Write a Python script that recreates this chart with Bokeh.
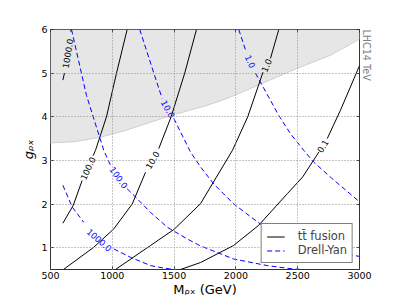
from bokeh.plotting import figure
from bokeh.models import (Range1d, FixedTicker, LinearAxis, Title, Legend,
                          LegendItem)
from bokeh.core.properties import value
from bokeh.embed import file_html
from bokeh.resources import INLINE

nan = float("nan")

# ---------------- data ----------------
x_ticks = [500, 1000, 1500, 2000, 2500, 3000]
y_ticks = [1, 2, 3, 4, 5, 6]
g_top = 6.0

# excluded region (lower boundary, shaded up to the top)
excl_M = [500, 700, 900, 1100, 1228, 1498, 1768, 1956, 2226, 2496, 2765, 3000]
excl_g = [3.40, 3.43, 3.53, 3.68, 3.80, 4.05, 4.26, 4.45, 4.78, 5.11, 5.41, 5.78]

# tt fusion contours (NaN = gap for the inline label)
tt_1000_M = [600, 613, nan, 662, 670]
tt_1000_g = [4.84, 5.00, nan, 5.95, 6.00]
tt_100_M = [600, 684, 756, nan, 845, 864, 953, 1034, 1120]
tt_100_g = [1.56, 1.97, 2.54, nan, 3.11, 3.23, 4.00, 5.00, 6.00]
tt_10_M = [605, 850, 1012, 1161, 1269, nan, 1376, 1476, 1586, 1681]
tt_10_g = [0.50, 1.01, 1.43, 2.00, 2.73, nan, 3.27, 4.00, 5.00, 6.00]
tt_1_M = [1026, 1309, 1500, 1714, 1972, 2096, 2219, nan, 2280, 2347]
tt_1_g = [0.50, 1.05, 1.42, 2.01, 3.23, 4.00, 5.02, nan, 5.34, 6.00]
tt_01_M = [1552, 1714, 1981, 2183, 2417, 2540, 2671, nan, 2739, 2846, 3000]
tt_01_g = [0.50, 0.66, 1.05, 1.51, 2.24, 2.62, 3.19, nan, 3.50, 4.15, 5.17]

# Drell-Yan contours
dy_1000_M = [600, 676, 769, nan, 1012, 1147, 1309, 1420, 1500]
dy_1000_g = [2.43, 1.93, 1.58, nan, 0.97, 0.78, 0.59, 0.53, 0.50]
dy_100_M = [670, 791, 931, 985, nan, 1120, 1188, 1309, 1444, 1606, 1714, 1983, 2253, 2468, 2550]
dy_100_g = [6.00, 4.49, 3.23, 2.89, nan, 2.35, 2.16, 1.81, 1.47, 1.20, 1.04, 0.74, 0.59, 0.51, 0.50]
dy_10_M = [1222, 1336, 1403, nan, 1498, 1633, 1714, 1821, 1983, 2213, 2500, 2750, 3000]
dy_10_g = [6.00, 5.00, 4.42, nan, 3.96, 3.19, 2.85, 2.46, 2.00, 1.51, 1.12, 0.93, 0.80]
dy_1_M = [2023, 2078, nan, 2158, 2347, 2442, 2549, 2630, 2772, 3000]
dy_1_g = [6.00, 5.53, nan, 5.00, 4.03, 3.61, 3.23, 2.96, 2.60, 2.05]

# inline contour labels
tt_lab_text = ["1000.0", "100.0", "10.0", "1.0", "0.1"]
tt_lab_M = [638, 801, 1323, 2246, 2702]
tt_lab_g = [5.45, 2.82, 3.01, 5.18, 3.33]
dy_lab_text = ["1000.0", "100.0", "10.0", "1.0"]
dy_lab_M = [896, 1054, 1452, 2118]
dy_lab_g = [1.18, 2.61, 4.18, 5.27]

tt_lab_angle = [1.40, 1.13, 1.04, 1.15, 1.02]
dy_lab_angle = [-0.72, -0.95, -1.08, -1.14]

series_label = ["t\u0074\u0304 fusion", "Drell-Yan"]
side_note = "LHC14 TeV"

# ---------------- figure ----------------
FONT = "DejaVu Sans"
p = figure(width=399, height=299, output_backend="svg", toolbar_location=None,
           x_range=Range1d(500, 3000), y_range=Range1d(0.5, 6),
           min_border_left=50, min_border_right=40, min_border_top=29,
           min_border_bottom=30)
p.outline_line_color = "#333333"
p.outline_line_width = 1

p.varea(x=excl_M, y1=excl_g, y2=[g_top] * len(excl_M),
        fill_color="#e6e6e6", fill_alpha=1.0)
p.line(excl_M, excl_g, line_color="#cfcfcf", line_width=1)

tt_sets = [(tt_1000_M, tt_1000_g), (tt_100_M, tt_100_g), (tt_10_M, tt_10_g),
           (tt_1_M, tt_1_g), (tt_01_M, tt_01_g)]
dy_sets = [(dy_1000_M, dy_1000_g), (dy_100_M, dy_100_g), (dy_10_M, dy_10_g),
           (dy_1_M, dy_1_g)]

tt_r = [p.line(m, g, line_color="black", line_width=1) for m, g in tt_sets]
dy_r = [p.line(m, g, line_color="#0000ff", line_width=1, line_dash="5 3")
        for m, g in dy_sets]

p.text(x=tt_lab_M, y=tt_lab_g, text=tt_lab_text, angle=tt_lab_angle,
       text_color="black", text_font=value(FONT), text_font_size="8.5px",
       text_align="center", text_baseline="middle")
p.text(x=dy_lab_M, y=dy_lab_g, text=dy_lab_text, angle=dy_lab_angle,
       text_color="#0000ff", text_font=value(FONT), text_font_size="8.5px",
       text_align="center", text_baseline="middle")

# axes
for ax in (p.xaxis[0], p.yaxis[0]):
    ax.major_tick_in = 3
    ax.major_tick_out = 0
    ax.minor_tick_in = 0
    ax.minor_tick_out = 0
    ax.axis_line_color = None
    ax.major_tick_line_color = "#333333"
    ax.major_label_text_font = FONT
    ax.major_label_text_font_size = "9.5px"
    ax.major_label_text_color = "black"
    ax.axis_label_text_font = FONT
    ax.axis_label_text_color = "black"
p.xaxis.ticker = FixedTicker(ticks=x_ticks)
p.yaxis.ticker = FixedTicker(ticks=y_ticks)
p.xaxis.major_label_standoff = 2
p.yaxis.major_label_standoff = 3
p.xaxis.axis_label = "M\u1d68\u2093 (GeV)"
p.xaxis.axis_label_text_font_size = "13px"
p.xaxis.axis_label_text_font_style = "normal"
p.xaxis.axis_label_standoff = 0
p.yaxis.axis_label = "g\u1d68\u2093"
p.yaxis.axis_label_text_font_size = "13px"
p.yaxis.axis_label_text_font_style = "italic"
p.yaxis.axis_label_standoff = 2

for side, tk in (("above", x_ticks), ("right", y_ticks)):
    a = LinearAxis(ticker=FixedTicker(ticks=tk), major_tick_in=3, major_tick_out=0,
                   minor_tick_in=0, minor_tick_out=0, axis_line_color=None,
                   major_tick_line_color="#333333",
                   major_label_text_font_size="0px", major_label_text_color=None,
                   major_label_standoff=0)
    p.add_layout(a, side)

for grid in (p.xgrid[0], p.ygrid[0]):
    grid.grid_line_color = "#8c8c8c"
    grid.grid_line_dash = "1 2"
    grid.grid_line_width = 1
    grid.level = "annotation"
p.xgrid.ticker = FixedTicker(ticks=x_ticks)
p.ygrid.ticker = FixedTicker(ticks=y_ticks)

p.add_layout(Title(text=side_note, align="left", vertical_align="bottom",
                   offset=0, standoff=2, text_color="#7f7f7f", text_font=FONT,
                   text_font_size="9.6px", text_font_style="normal"), "right")

legend = Legend(items=[LegendItem(label=series_label[0], renderers=[tt_r[0]]),
                       LegendItem(label=series_label[1], renderers=[dy_r[0]])],
                location="bottom_right", margin=6, padding=5, spacing=0,
                glyph_width=18, glyph_height=13, label_height=13,
                label_standoff=13, label_text_font=FONT,
                label_text_font_size="11.5px", border_line_color="black",
                border_line_width=1, background_fill_alpha=1.0)
p.add_layout(legend)

open("out.html", "w").write(file_html(p, INLINE))
